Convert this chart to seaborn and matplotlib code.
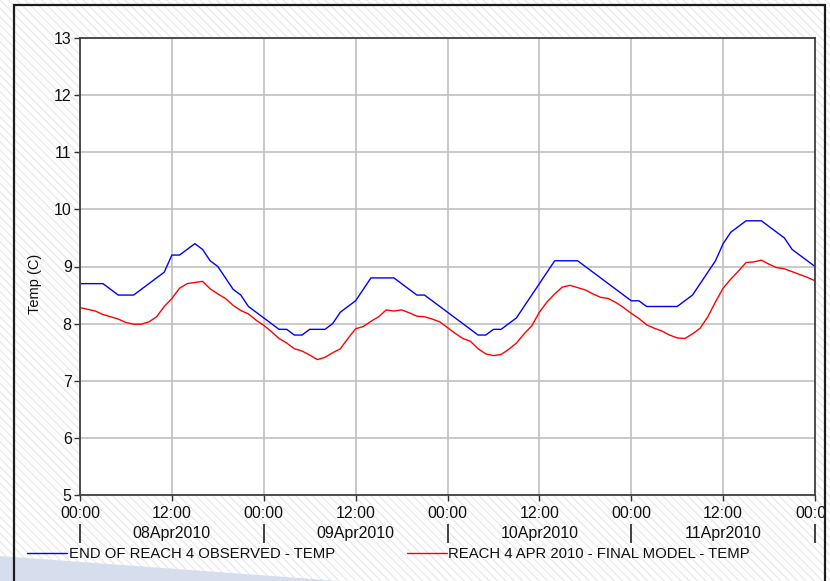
import numpy as np
import pandas as pd
import matplotlib
matplotlib.use("Agg")
import matplotlib.pyplot as plt
import seaborn as sns
from matplotlib.patches import Rectangle, Polygon
from matplotlib.lines import Line2D
from matplotlib.transforms import Bbox, TransformedBbox

# ---------------- data (hourly, 08Apr2010 00:00 -> 12Apr2010 00:00) ----------------
start_time = "2010-04-08 00:00"
observed_temp = [
    8.7, 8.7, 8.7, 8.7, 8.6, 8.5, 8.5, 8.5, 8.6, 8.7, 8.8, 8.9,
    9.2, 9.2, 9.3, 9.4, 9.3, 9.1, 9.0, 8.8, 8.6, 8.5, 8.3, 8.2,
    8.1, 8.0, 7.9, 7.9, 7.8, 7.8, 7.9, 7.9, 7.9, 8.0, 8.2, 8.3,
    8.4, 8.6, 8.8, 8.8, 8.8, 8.8, 8.7, 8.6, 8.5, 8.5, 8.4, 8.3,
    8.2, 8.1, 8.0, 7.9, 7.8, 7.8, 7.9, 7.9, 8.0, 8.1, 8.3, 8.5,
    8.7, 8.9, 9.1, 9.1, 9.1, 9.1, 9.0, 8.9, 8.8, 8.7, 8.6, 8.5,
    8.4, 8.4, 8.3, 8.3, 8.3, 8.3, 8.3, 8.4, 8.5, 8.7, 8.9, 9.1,
    9.4, 9.6, 9.7, 9.8, 9.8, 9.8, 9.7, 9.6, 9.5, 9.3, 9.2, 9.1,
    9.0,
]
model_temp = [
    8.28, 8.25, 8.22, 8.16, 8.12, 8.08, 8.02, 7.99, 7.99, 8.03, 8.12, 8.30,
    8.44, 8.62, 8.70, 8.72, 8.74, 8.61, 8.52, 8.44, 8.32, 8.23, 8.17, 8.06,
    7.97, 7.86, 7.74, 7.66, 7.56, 7.52, 7.45, 7.37, 7.41, 7.49, 7.56, 7.74,
    7.91, 7.95, 8.04, 8.12, 8.24, 8.22, 8.24, 8.19, 8.13, 8.12, 8.08, 8.03,
    7.93, 7.83, 7.74, 7.69, 7.56, 7.47, 7.44, 7.46, 7.55, 7.66, 7.82, 7.96,
    8.20, 8.38, 8.52, 8.64, 8.67, 8.63, 8.59, 8.52, 8.46, 8.44, 8.37, 8.28,
    8.18, 8.09, 7.98, 7.92, 7.87, 7.80, 7.75, 7.74, 7.82, 7.92, 8.12, 8.38,
    8.62, 8.78, 8.92, 9.07, 9.08, 9.11, 9.04, 8.98, 8.96, 8.91, 8.86, 8.81,
    8.75,
]
series_names = ["END OF REACH 4 OBSERVED - TEMP", "REACH 4 APR 2010 - FINAL MODEL - TEMP"]
series_colors = ["#0000ff", "#ff0000"]
time_tick_labels = ["00:00", "12:00", "00:00", "12:00", "00:00", "12:00", "00:00", "12:00", "00:00"]
date_labels = ["08Apr2010", "09Apr2010", "10Apr2010", "11Apr2010"]
y_ticks = [5, 6, 7, 8, 9, 10, 11, 12, 13]
y_label = "Temp (C)"

times = pd.date_range(start_time, periods=len(observed_temp), freq="h")
df = pd.DataFrame({
    "time": list(times) * 2,
    "temp": observed_temp + model_temp,
    "series": [series_names[0]] * len(times) + [series_names[1]] * len(times),
})

# ---------------- style ----------------
sns.set_style("ticks")
plt.rcParams["font.family"] = ["Liberation Sans", "DejaVu Sans"]
plt.rcParams["hatch.color"] = "#ebebeb"
plt.rcParams["hatch.linewidth"] = 1.0

W, H = 830, 581
fig = plt.figure(figsize=(W / 100, H / 100), dpi=100)
fig.patch.set_facecolor("white")

# hatched background
bg = Rectangle((0, 0), 1, 1, transform=fig.transFigure, facecolor="white",
               edgecolor="#ebebeb", hatch="\\\\\\\\", lw=0, zorder=-10)
fig.add_artist(bg)
# light blue wedge at bottom-left
wedge = Polygon([(0, 1 - 556 / H), (340 / W, 0), (0, 0)], closed=True,
                transform=fig.transFigure, facecolor="#d6deee", edgecolor="none", zorder=-9)
fig.add_artist(wedge)
# outer frame
frame = Rectangle((14 / W, -0.05), (825 - 14) / W, 1.05 - 5 / H, transform=fig.transFigure,
                  fill=False, edgecolor="#1c1c1c", lw=1.6, zorder=-8)
fig.add_artist(frame)

ax = fig.add_axes([80 / W, 1 - 495 / H, 735 / W, 457 / H])
ax.set_facecolor("white")

sns.lineplot(data=df, x="time", y="temp", hue="series", hue_order=series_names,
             palette=series_colors, lw=1.0, ax=ax, legend=False)

ax.set_xlim(times[0], times[-1])
ax.set_ylim(y_ticks[0], y_ticks[-1])
ax.set_yticks(y_ticks)
ax.set_yticklabels([str(v) for v in y_ticks])
xt = pd.date_range(times[0], times[-1], freq="12h")
ax.set_xticks(xt)
ax.set_xticklabels(time_tick_labels)

ax.set_axisbelow(True)
ax.grid(True, color="#c0c0c0", lw=1.2)
for s in ax.spines.values():
    s.set_visible(True)
    s.set_color("#404040")
    s.set_linewidth(1.3)

ax.tick_params(axis="both", direction="out", color="#333333", width=1.0,
               labelsize=11.5, labelcolor="#111111")
ax.tick_params(axis="y", length=4, pad=2)
ax.tick_params(axis="x", length=4, pad=4)

ax.set_xlabel("")
ax.set_ylabel(y_label, fontsize=10.5, color="#111111")
ax.yaxis.set_label_coords(-0.0517, 0.462)

# date row
xtrans = ax.get_xaxis_transform()
day_starts = pd.date_range(times[0], times[-1], freq="24h")
for i, lab in enumerate(date_labels):
    ax.text(day_starts[i] + pd.Timedelta(hours=12), -0.0853, lab, transform=xtrans,
            ha="center", va="center", fontsize=11.5, color="#111111")
ax.vlines(day_starts, -0.063, -0.105, transform=xtrans, colors="#222222",
          lw=1.2, clip_on=False)

# legend
handles = [Line2D([], [], color=c, lw=1.0) for c in series_colors]
fig.legend(handles, series_names, loc="center left", bbox_to_anchor=(27 / W, 1 - 554 / H),
           ncol=2, frameon=False, prop={"size": 10.7}, handlelength=2.7,
           handletextpad=0.1, columnspacing=4.85, borderpad=0, borderaxespad=0,
           labelcolor="#111111")

# clip tick labels to the outer frame (the last "00:00" is cut by the frame, as in the original)
fig.canvas.draw()
clipbox = TransformedBbox(Bbox([[14 / W, 0], [824 / W, 1]]), fig.transFigure)
for t in ax.xaxis.get_major_ticks():
    t.label1.set_clip_on(True)
    t.label1.set_clip_box(clipbox)

fig.savefig("out.png", dpi=100, facecolor=fig.get_facecolor())
